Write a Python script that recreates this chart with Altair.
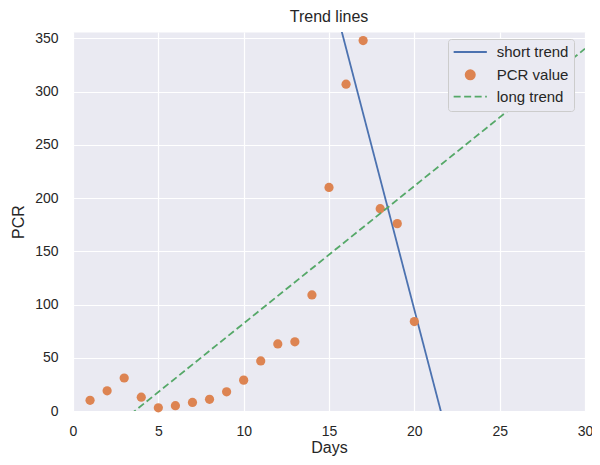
import altair as alt
import pandas as pd

# ---- data ----
days = list(range(1, 21))
pcr = [10, 19, 31, 13, 3, 5, 8, 11, 18, 29, 47, 63, 65, 109, 210, 307, 348, 190, 176, 84]

short_days = [15, 22]
short_vals = [402.2, -27.6]

long_days = [0, 30]
long_vals = [-46.7, 340.3]

series_names = ["short trend", "PCR value", "long trend"]
series_colors = ["#4C72B0", "#DD8452", "#55A868"]

x_ticks = [0, 5, 10, 15, 20, 25, 30]
y_ticks = [0, 50, 100, 150, 200, 250, 300, 350]

pts = pd.DataFrame({"Days": days, "PCR": pcr, "series": "PCR value"})
short = pd.DataFrame({"Days": short_days, "PCR": short_vals, "series": "short trend"})
long_ = pd.DataFrame({"Days": long_days, "PCR": long_vals, "series": "long trend"})

font = "Liberation Sans"
txt = "#262626"

xscale = alt.Scale(domain=[0, 30], nice=False)
yscale = alt.Scale(domain=[0, 356], nice=False)

legend = alt.Legend(
    title=None,
    orient="none",
    legendX=375,
    legendY=7,
    padding=5.5,
    rowPadding=5.8,
    labelOffset=19,
    symbolOffset=9.25,
    labelFontSize=15,
    labelFont=font,
    labelColor=txt,
    symbolSize=85,
    symbolStrokeWidth=1.8,
    fillColor="#EAEAF2",
    strokeColor="#cccccc",
    cornerRadius=3,
)
# per-entry symbol styles (Vega-Lite legend 'encoding', not exposed in the schema)
legend._kwds["encoding"] = {
    "symbols": {
        "shape": {"value": {"expr": "datum.value === 'PCR value' ? 'circle' : 'M-3.6,0H3.6'"}},
        "strokeDash": {"value": {"expr": "datum.value === 'long trend' ? [7, 3.5] : []"}},
        "fill": {"value": {"expr": "datum.value === 'PCR value' ? '#DD8452' : 'transparent'"}},
        "stroke": {"value": {"expr": "datum.value === 'PCR value' ? 'transparent' : (datum.value === 'short trend' ? '#4C72B0' : '#55A868')"}},
        "strokeWidth": {"value": 1.8},
        "opacity": {"value": 1},
    }
}

color = alt.Color("series:N", scale=alt.Scale(domain=series_names, range=series_colors), legend=legend)

xenc = alt.X("Days:Q", scale=xscale, title="Days",
             axis=alt.Axis(values=x_ticks, labelPadding=13, titlePadding=1, labelFlush=False))
yenc = alt.Y("PCR:Q", scale=yscale, title="PCR",
             axis=alt.Axis(values=y_ticks, labelPadding=15, titlePadding=8, labelFlush=False))

short_line = alt.Chart(short).mark_line(strokeWidth=1.8, clip=True).encode(x=xenc, y=yenc, color=color)
points = alt.Chart(pts).mark_circle(size=85, opacity=1).encode(x=xenc, y=yenc, color=color)
long_line = alt.Chart(long_).mark_line(strokeWidth=1.8, strokeDash=[7, 3.5], clip=True).encode(x=xenc, y=yenc, color=color)

chart = alt.layer(short_line, points, long_line).properties(
    width=512,
    height=379,
    background="white",
    title=alt.Title("Trend lines", fontSize=16, fontWeight="normal", color=txt, font=font, offset=6),
    autosize=alt.AutoSizeParams(type="none"),
    padding={"left": 65, "top": 24, "right": 7, "bottom": 46},
).configure_view(
    fill="#EAEAF2", stroke="transparent"
).configure_axis(
    grid=True, gridColor="white", gridWidth=1.2, domain=False, ticks=False, tickSize=0,
    labelFont=font, titleFont=font, labelFontSize=14, titleFontSize=16,
    labelColor=txt, titleColor=txt, titleFontWeight="normal",
)

# the legend 'encoding' key is not in the published schema; skip schema check
_orig = chart.to_dict
object.__setattr__(chart, "to_dict", lambda *a, **k: _orig(*a, **{**k, "validate": False}))

chart.save("out.html", embed_options={"renderer": "svg", "actions": False})
